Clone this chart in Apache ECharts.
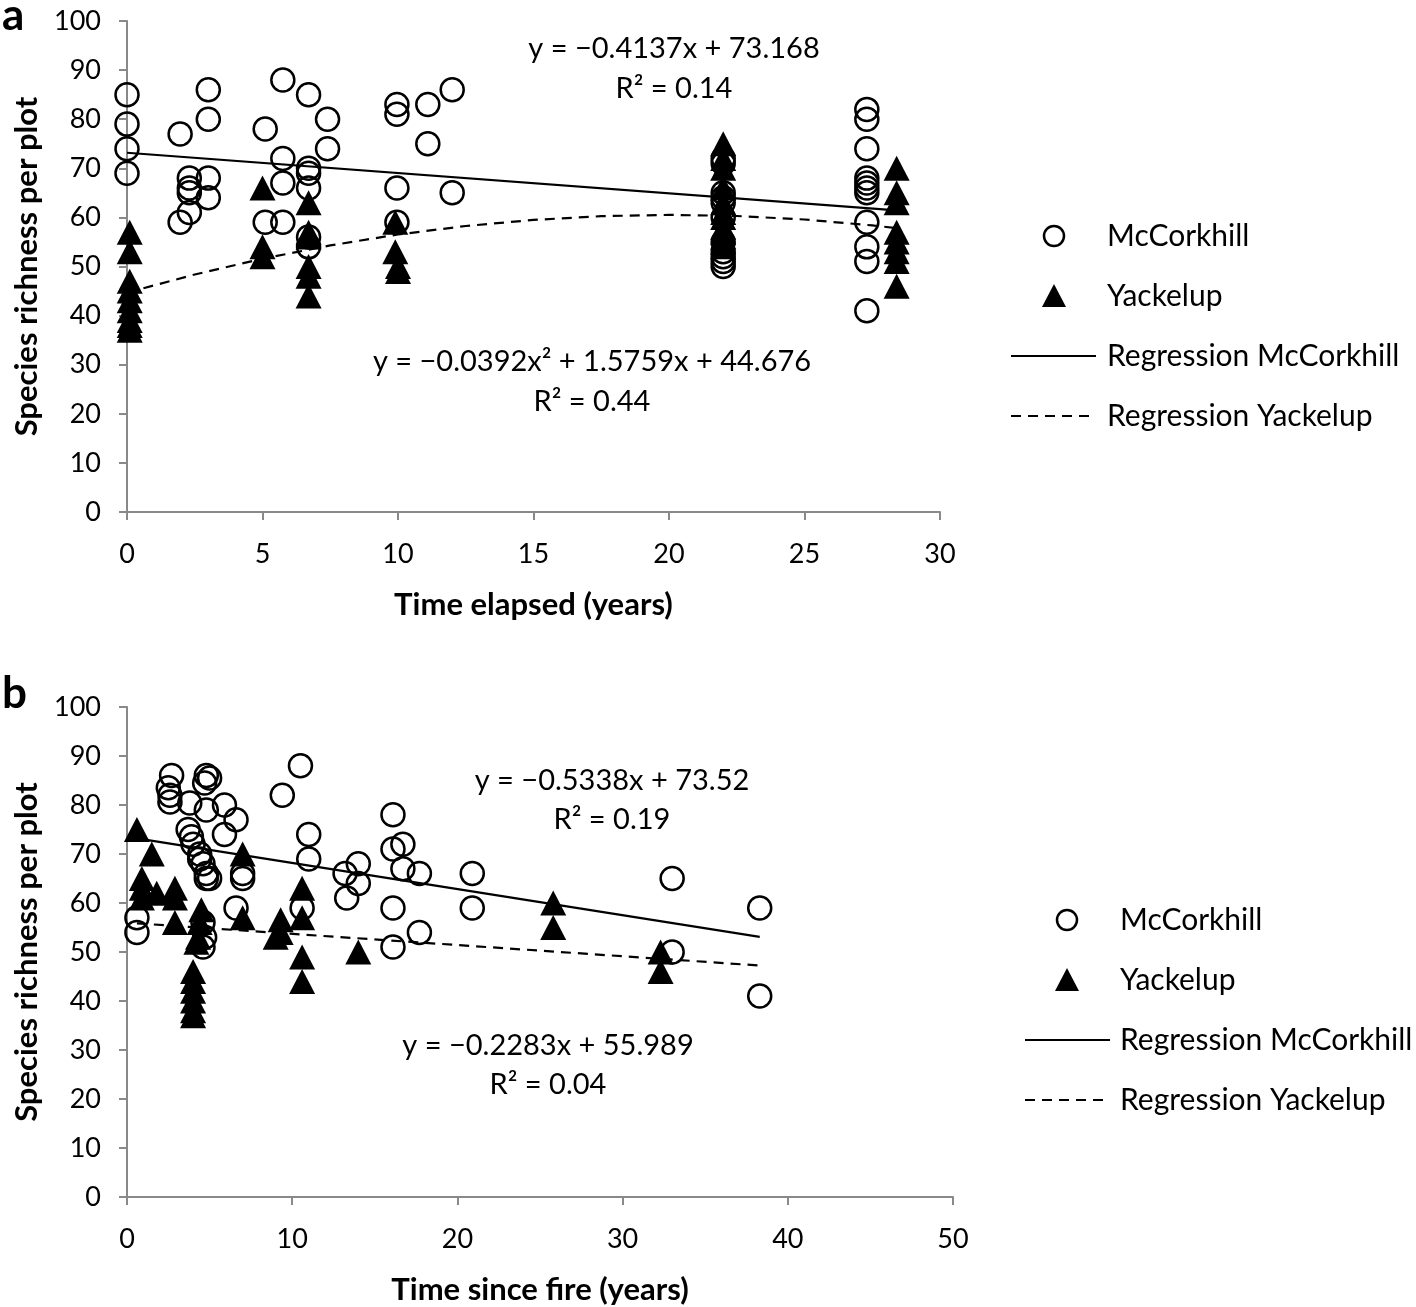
<!DOCTYPE html>
<html><head><meta charset="utf-8">
<script src="https://cdn.jsdelivr.net/npm/echarts@6/dist/echarts.min.js"></script>
<style>html,body{margin:0;padding:0;background:#fff}#c{width:1416px;height:1307px}</style>
</head><body><div id="c"></div>
<script>
// ---- Panel a data ----
const aMcX = [0,0,0,0, 1.96,1.96, 2.3,2.3,2.3,2.3, 3,3,3,3, 5.1,5.1, 5.75,5.75,5.75,5.75, 6.7,6.7,6.7,6.7,6.7,6.7, 7.4,7.4, 9.96,9.96,9.96,9.96, 11.1,11.1, 12,12,
  22,22,22,22,22,22,22,22,22,22,22, 27.3,27.3,27.3,27.3,27.3,27.3,27.3,27.3,27.3,27.3,27.3];
const aMcY = [85,79,74,69, 77,59, 68,66,65,61, 86,80,68,64, 78,59, 88,72,67,59, 85,70,69,66,56,54, 80,74, 83,81,66,59, 83,75, 86,65,
  72,71,65,64,63,60,55,53,52,51,50, 82,80,74,68,67,66,65,59,54,51,41];
const aYkX = [0.1,0.1,0.1,0.1,0.1,0.1,0.1,0.1,0.1, 5,5,5, 6.7,6.7,6.7,6.7,6.7,6.7, 9.9,9.9,10,10,
  22,22,22,22,22,22,22,22,22,22,22,22, 28.4,28.4,28.4,28.4,28.4,28.4,28.4,28.4];
const aYkY = [57,53,47,45,43,41,39,38,37, 66,54,52, 63,57,56,50,48,44, 59,53,50,49,
  75,72,70,66,63,61,60,58,57,56,55,54, 70,65,63,57,55,53,51,46];
const aRegMcX = [0, 28.4];
const aRegMcY = [73.17, 61.42];
const aRegYkX = [0,2.5,5,7.5,10,12.5,15,17.5,20,22.5,25,27.5,28.4];
const aRegYkY = [44.68,48.37,51.58,54.29,56.52,58.25,59.49,60.25,60.51,60.29,59.57,58.37,57.81];

// ---- Panel b data ----
const bMcX = [2.7,4.8,5.0,2.5,2.6,2.6,4.7,3.8,4.8,5.9,6.6,5.9,3.7,3.9,4.0,4.4,4.4,4.6,4.8,4.8,5.0,7.0,7.0,6.6,0.6,0.6,4.6,4.7,4.6,
  10.5,9.4,11,11,14,13.2,14,13.3,16.1,16.1,16.7,16.7,17.7,16.1,17.7,16.1,20.9,20.9,10.6,33,38.3,38.3,33];
const bMcY = [86,86,85.5,83.5,82,80.6,84.5,80.4,79,80,77,74,75,73.5,72,70,69,68,66,65,65,66,65,59,57,54,56,53,51,
  88,82,74,69,68,66,64,61,78,71,72,67,66,59,54,51,66,59,59,65,59,41,50];
const bYkX = [0.6,1.5,0.9,0.9,1.8,2.9,2.9,0.9,2.9,4.5,4.4,4.3,4.2,4,4,4,4,4,4,7,7,9.3,9.3,9,10.6,10.6,10.6,10.6,14,25.8,25.8,32.3,32.3];
const bYkY = [75,70,65,63,62,63,61,61,56,58.6,56,53,52,46,44,42,40,38,37,70,57,56.6,54,53,63,57,49,44,50,60,55,50,46];
const bRegMcX = [0.6, 38.3];
const bRegMcY = [73.2, 53.08];
const bRegYkX = [0.6, 38.3];
const bRegYkY = [55.85, 47.24];

const yTicks = [0,10,20,30,40,50,60,70,80,90,100];
const aXTicks = [0,5,10,15,20,25,30];
const bXTicks = [0,10,20,30,40,50];
const legendNames = ['McCorkhill', 'Yackelup', 'Regression McCorkhill', 'Regression Yackelup'];
const eqA = ['y = \u22120.4137x + 73.168', 'R\u00b2 = 0.14', 'y = \u22120.0392x\u00b2 + 1.5759x + 44.676', 'R\u00b2 = 0.44'];
const eqB = ['y = \u22120.5338x + 73.52', 'R\u00b2 = 0.19', 'y = \u22120.2283x + 55.989', 'R\u00b2 = 0.04'];

const FONT = 'Lato';
const zip = (xs, ys) => xs.map((x, i) => [x, ys[i]]);
const AX = '#898989';

function xAxisCfg(idx, ticks, name) {
  return {
    gridIndex: idx, type: 'value', min: ticks[0], max: ticks[ticks.length-1], interval: ticks[1]-ticks[0],
    name: name, nameLocation: 'middle', nameGap: 77,
    nameTextStyle: {fontFamily: FONT, fontWeight: 'bold', fontSize: 31, color: '#000'},
    axisLine: {onZero: false, lineStyle: {color: AX, width: 2}},
    axisTick: {show: true, length: 8, inside: false, lineStyle: {color: AX, width: 2}},
    axisLabel: {fontFamily: FONT, fontSize: 27, color: '#000', margin: 29},
    splitLine: {show: false}
  };
}
function yAxisCfg(idx) {
  return {
    gridIndex: idx, type: 'value', min: yTicks[0], max: yTicks[yTicks.length-1], interval: yTicks[1]-yTicks[0],
    name: 'Species richness per plot', nameLocation: 'middle', nameRotate: 90, nameGap: 85,
    nameTextStyle: {fontFamily: FONT, fontWeight: 'bold', fontSize: 31, color: '#000'},
    axisLine: {show: true, lineStyle: {color: AX, width: 2}},
    axisTick: {show: true, length: 8, lineStyle: {color: AX, width: 2}},
    axisLabel: {fontFamily: FONT, fontSize: 27, color: '#000', margin: 26},
    splitLine: {show: false}
  };
}
const circleStyle = {color: 'rgba(0,0,0,0)', borderColor: '#000', borderWidth: 2.5, opacity: 1};
const triStyle = {color: '#000', borderColor: '#000', borderWidth: 0, opacity: 1};
function scatter(name, idx, data, sym) {
  return {
    name: name, type: 'scatter', xAxisIndex: idx, yAxisIndex: idx, data: data,
    symbol: sym, symbolSize: sym === 'circle' ? 23 : [26, 25],
    itemStyle: sym === 'circle' ? circleStyle : triStyle, z: sym === 'circle' ? 2 : 3,
    emphasis: {disabled: true}
  };
}
function reg(name, idx, data, dashed) {
  return {
    name: name, type: 'line', xAxisIndex: idx, yAxisIndex: idx, data: data,
    showSymbol: false, symbol: 'none', smooth: false, z: 4,
    lineStyle: {color: '#000', width: 2.2, type: dashed ? [10, 7] : 'solid'},
    itemStyle: {color: '#000'}, emphasis: {disabled: true}
  };
}
// legend drawn as graphic: (markerCenterX, lineLeft, lineRight, textLeft, firstRowY, rowGap)
function legendGraphic(cx, l0, l1, tx, y0, gap) {
  const ys = [0, 1, 2, 3].map(i => y0 + i * gap);
  const ts = {fontFamily: FONT, fontSize: 30, fill: '#000', verticalAlign: 'middle'};
  return [
    {type: 'circle', shape: {cx: cx, cy: ys[0], r: 10}, style: {fill: 'none', stroke: '#000', lineWidth: 2.5}},
    {type: 'polygon', shape: {points: [[cx, ys[1] - 12], [cx + 12, ys[1] + 11], [cx - 12, ys[1] + 11]]}, style: {fill: '#000'}},
    {type: 'line', shape: {x1: l0, y1: ys[2], x2: l1, y2: ys[2]}, style: {stroke: '#000', lineWidth: 2}},
    {type: 'line', shape: {x1: l0, y1: ys[3], x2: l1, y2: ys[3]}, style: {stroke: '#000', lineWidth: 2, lineDash: [10, 7]}},
    ...legendNames.map((n, i) => ({type: 'text', x: tx, y: ys[i], style: Object.assign({text: n}, ts)}))
  ];
}
const eq = (x, y, s) => ({type: 'text', x: x, y: y, style: {text: s, fontFamily: FONT, fontSize: 29, fill: '#000', align: 'center', verticalAlign: 'middle'}});

const chart = echarts.init(document.getElementById('c'), null, {renderer: 'canvas'});
chart.setOption({
  animation: false,
  backgroundColor: '#fff',
  grid: [
    {left: 127, top: 21, width: 813, height: 491},
    {left: 127, top: 707, width: 826, height: 490}
  ],
  xAxis: [xAxisCfg(0, aXTicks, 'Time elapsed (years)'), xAxisCfg(1, bXTicks, 'Time since fire (years)')],
  yAxis: [yAxisCfg(0), yAxisCfg(1)],
  series: [
    scatter('McCorkhill', 0, zip(aMcX, aMcY), 'circle'),
    scatter('Yackelup', 0, zip(aYkX, aYkY), 'triangle'),
    reg('Regression McCorkhill', 0, zip(aRegMcX, aRegMcY), false),
    reg('Regression Yackelup', 0, zip(aRegYkX, aRegYkY), true),
    scatter('McCorkhill', 1, zip(bMcX, bMcY), 'circle'),
    scatter('Yackelup', 1, zip(bYkX, bYkY), 'triangle'),
    reg('Regression McCorkhill', 1, zip(bRegMcX, bRegMcY), false),
    reg('Regression Yackelup', 1, zip(bRegYkX, bRegYkY), true)
  ],
  graphic: [
    {type: 'text', x: 2, y: -6, style: {text: 'a', fontFamily: FONT, fontSize: 44, fontWeight: 'bold', fill: '#000'}},
    {type: 'text', x: 2, y: 672, style: {text: 'b', fontFamily: FONT, fontSize: 44, fontWeight: 'bold', fill: '#000'}},
    eq(674, 49, eqA[0]), eq(674, 89, eqA[1]), eq(592, 362, eqA[2]), eq(592, 402, eqA[3]),
    eq(612, 781, eqB[0]), eq(612, 820, eqB[1]), eq(548, 1046, eqB[2]), eq(548, 1085, eqB[3]),
    ...legendGraphic(1054, 1011, 1096, 1107, 236, 60),
    ...legendGraphic(1067, 1025, 1110, 1120, 920, 60)
  ]
});
</script></body></html>
